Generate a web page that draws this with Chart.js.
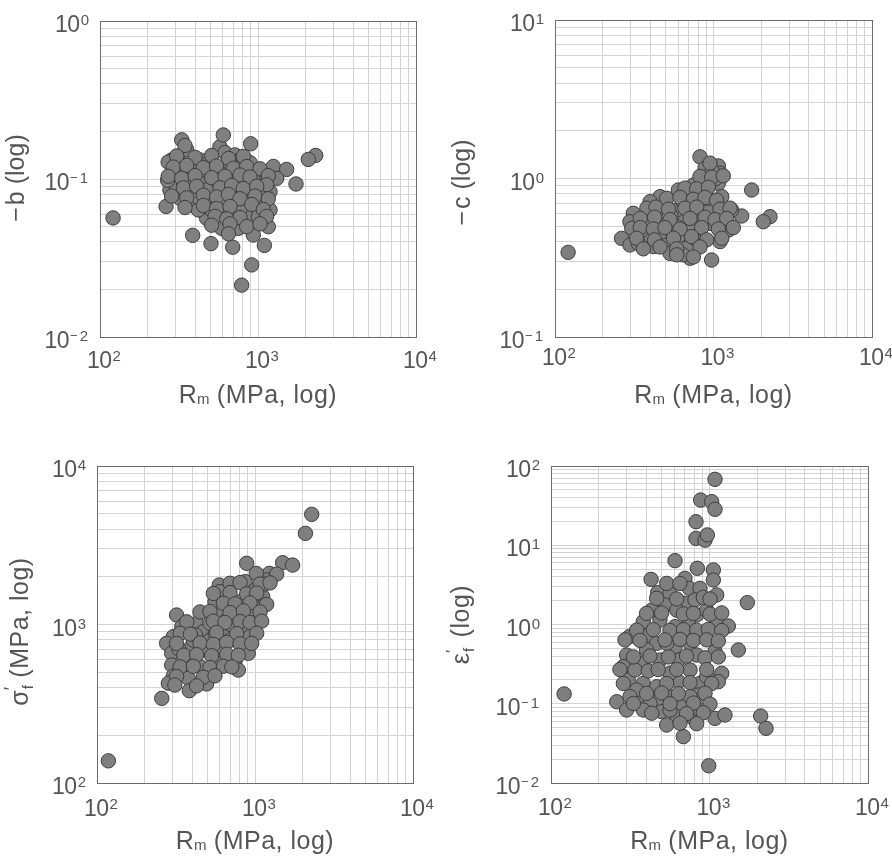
<!DOCTYPE html>
<html>
<head>
<meta charset="utf-8">
<script src="https://cdn.jsdelivr.net/npm/chart.js"></script>
<style>
html, body { margin: 0; padding: 0; background: #fff; }
#wrap { position: relative; width: 892px; height: 858px; }
canvas { position: absolute; }
</style>
</head>
<body>
<div id="wrap">
<canvas id="cB" width="446" height="420" style="left:0;top:0"></canvas>
<canvas id="cC" width="446" height="420" style="left:446px;top:0"></canvas>
<canvas id="cS" width="446" height="438" style="left:0;top:420px"></canvas>
<canvas id="cE" width="446" height="438" style="left:446px;top:420px"></canvas>
</div>
<script>
// decade exponents of the axes
const xExp = [2, 3, 4];
const yExpB = [-2, -1, 0];
const yExpC = [-1, 0, 1];
const yExpS = [2, 3, 4];
const yExpE = [-2, -1, 0, 1, 2];

// -b vs Rm
const rmB = [284,313,354,429,485,574,618,715,769,890, 981,306,291,371,473,618,827,1005,277,306,
  371,462,535,634,750,890,1081,1191,321,371, 485,603,715,827,981,1107,1191,473,589,715,
  848,1005,1162,589,750,934,419,509,337,409, 547,681,934,390,665,848,769,429,1030,561,
  634,473,665,807,270,268,329,345,603,899, 2318,2081,1250,1518,1314,1740,262,386,504,692,
  1097,912,788,121,
  306,400,509,650,807, 291,354,451,547,698,848,1030,1162, 270,329,400,509,618,769,890,1134,
  337,409,574,681,807,981, 284,354,451,547,650,769,957,1162, 345,451,547,665,912,1081,
  535,634,769,1134, 509,665,848,1030, 650];
const negB = [0.132,0.135,0.153,0.132,0.126,0.160,0.147,0.142,0.132,0.127,
  0.111,0.106,0.0986,0.111,0.111,0.111,0.111,0.0986,0.0852,0.0873,
  0.0917,0.0894,0.0831,0.0894,0.0917,0.0852,0.0873,0.0831,0.0755,0.0685,
  0.0755,0.0719,0.0737,0.0685,0.0668,0.0708,0.0637,0.0564,0.0607,0.0592,
  0.0578,0.0578,0.0499,0.0487,0.0487,0.0442,0.0637,0.0637,0.0962,0.0773,
  0.1035,0.101,0.0986,0.123,0.126,0.0737,0.0637,0.0939,0.0773,0.0702,
  0.0737,0.0852,0.0852,0.0986,0.128,0.098,0.177,0.163,0.190,0.167,
  0.141,0.133,0.120,0.115,0.101,0.093,0.067,0.044,0.039,0.037,
  0.038,0.0286,0.0213,0.0567,
  0.140,0.137,0.141,0.135,0.139, 0.119,0.122,0.118,0.121,0.117,0.120,0.116,0.105,
  0.104,0.101,0.105,0.102,0.104,0.106,0.103,0.092, 0.088,0.090,0.088,0.091,0.087,0.090,
  0.078,0.076,0.079,0.077,0.080,0.075,0.078,0.075, 0.066,0.068,0.065,0.067,0.069,0.064,
  0.058,0.056,0.057,0.058, 0.051,0.052,0.050,0.052, 0.045];

// -c vs Rm
const rmC = [822,884,1073,1099,1073,1741,2272,2062,1506,1302, 1127,822,746,600,460,398,494,312,370,297,
  263,305,370,460,507,615,645,822,950,1127, 1241,842,677,711,973,532,417,297,335,586,
  711,928,507,398,728,950,586,121,1030,980, 880,650,780,540,430,350,1180,1100,640,760,
  950,822,973,1153, 661,783,928, 507,615,746,884,1046, 380,434,520,661,783,1099,1271,
  345,425,532,711,884,1022,1211, 345,417,494,615,842,1073,1334, 327,425,559,728,906,1127,
  361,460,586,822, 586,746];
const negC = [1.37,1.16,1.20,1.08,0.932,0.846,0.574,0.534,0.580,0.633,
  0.768,0.806,0.910,0.846,0.768,0.714,0.681,0.603,0.553,0.534,
  0.419,0.485,0.430,0.430,0.381,0.440,0.561,0.574,0.633,0.473,
  0.473,0.399,0.363,0.314,0.306,0.337,0.372,0.381,0.390,0.633,
  0.714,0.750,0.521,0.497,0.485,0.521,0.497,0.342,1.0,1.12,
  0.95,0.70,0.62,0.58,0.60,0.47,0.57,0.40,0.33,0.42,
  1.25,1.03,1.02,1.04, 0.87,0.86,0.88, 0.75,0.76,0.74,0.76,0.73, 0.65,0.66,0.64,0.65,0.66,0.64,0.65,
  0.56,0.57,0.55,0.56,0.57,0.55,0.56, 0.49,0.48,0.49,0.48,0.49,0.48,0.49, 0.42,0.41,0.42,0.43,0.41,0.42,
  0.36,0.37,0.36,0.37, 0.33,0.32];

// sigma'f vs Rm
const rmS = [886,1496,1731,1233,865,594,600,558,804,1119, 1102,695,319,586,344,427,471,631,747,865,
  1000,304,276,397,483,600,844,907,297,370, 449,586,747,784,297,304,378,283,494,384,
  257,519,695,930,1000,1185,804,407,662,519, 2285,2085,118,1050,950,700,560,420,330,1150,
  900,
  1018,1372, 695,804,1076,1245, 545,695,886,1025, 631,747,930,1185, 449,519,695,844,1076,
  370,545,645,804,930,1102, 336,390,572,766,1025, 319,449,545,662,804,953,
  354,427,532,662,784, 336,407,519,631,714, 319,471,558, 311,427];
const sigS = [2432,2454,2371,2102,1863,1775,1611,1394,1394,1500,
  1296,1265,1148,1148,968,1017,901,923,968,923,
  1094,838,761,725,691,708,743,658,658,569,
  542,569,583,516,555,473,458,426,422,382,
  342,798,798,838,1650,1909,1120,798,1067,1017,
  4955,3758,138,1250,1450,1000,870,860,700,1800,
  1200,
  2100,2080, 1820,1840,1800,1830, 1570,1590,1560,1580, 1360,1350,1370,1340, 1200,1210,1190,1220,1200,
  1040,1050,1030,1045,1030,1050, 880,870,890,875,880, 760,765,750,770,755,760,
  640,645,635,650,640, 540,545,535,545,540, 470,465,475, 415,410];

// eps'f vs Rm
const rmE = [1083,880,1032,1083,822,822,937,969,606,838, 1057,1057,428,700,746,871,471,563,1110,1732,
  524,700,810,830,1110,382,487,606,914,1314, 312,411,464,606,754,1083,1520,300,373,487,
  636,830,286,307,382,464,636,871,1194,1137, 260,300,364,464,577,684,850,499,621,791,
  537,684,1083,1252,2103,2273,339,563,754,401, 537,735,432,621,960,347,421,563,754,960,
  315,382,871,121,989,
  537,651, 464,621,914,1007, 401,499,684,791,1007,1194, 347,442,563,684,830,983,1194,
  293,364,524,651,791,960,1137, 331,421,550,716,937,1137, 272,411,475,621,960,
  286,537,754,1032, 401,499,636,937, 331,563,791,1007, 432,716,914, 651,830];
const epsE = [67.9,37.2,35.5,28.4,19.8,12.2,11.6,13.5,6.39,5.12,
  4.88,3.64,3.71,3.82,2.86,2.86,2.52,2.43,2.36,1.89,
  1.76,1.85,2.04,1.32,1.14,1.086,1.14,0.939,0.737,0.957,
  0.702,0.737,0.578,0.525,0.578,0.454,0.477,0.412,0.3235,0.356,
  0.356,0.412,0.294,0.1995,0.181,0.164,0.190,0.181,0.242,0.190,
  0.106,0.0834,0.106,0.1115,0.123,0.0918,0.129,0.0794,0.0687,0.0654,
  0.0539,0.0385,0.0654,0.0721,0.070,0.049,0.267,0.242,0.267,0.477,
  0.578,1.034,1.52,1.52,1.52,0.149,0.101,0.0834,0.123,0.220,
  0.123,0.0834,0.0834,0.133,0.0165,
  3.3,3.3, 2.14,2.1,2.2,2.1, 1.38,1.40,1.36,1.38,1.35,1.40, 0.85,0.86,0.84,0.86,0.85,0.87,0.84,
  0.64,0.63,0.64,0.65,0.63,0.64,0.62, 0.39,0.40,0.39,0.40,0.38,0.39, 0.27,0.26,0.27,0.27,0.27,
  0.18,0.18,0.185,0.18, 0.135,0.137,0.134,0.136, 0.101,0.100,0.102,0.099, 0.076,0.075,0.077, 0.057,0.056];

const FONT = '"Liberation Sans", Arial, sans-serif';
const TEXT = '#555555';

// 1..9 x 10^n for every decade, so there is a grid line at each one
function logTicks(exps) {
  const t = [];
  for (let i = 0; i < exps.length - 1; i++) {
    for (let m = 1; m < 10; m++) t.push({ value: +(m * Math.pow(10, exps[i])).toPrecision(6) });
  }
  t.push({ value: Math.pow(10, exps[exps.length - 1]) });
  return t;
}

// draws a row of text pieces (for sub / superscripts)
function drawRuns(ctx, runs, x, y, rotate, align) {
  ctx.save();
  ctx.translate(x, y);
  if (rotate) ctx.rotate(-Math.PI / 2);
  ctx.fillStyle = TEXT;
  ctx.textBaseline = 'alphabetic';
  ctx.textAlign = 'left';
  let total = 0;
  const ws = runs.map(r => {
    ctx.font = r.size + 'px ' + FONT;
    ctx.letterSpacing = (r.ls || 0) + 'px';
    const w = ctx.measureText(r.t).width + (r.gap || 0);
    if (!r.stack) total += w;
    return w;
  });
  let cx = align === 'right' ? -total : align === 'left' ? 0 : -total / 2;
  runs.forEach((r, i) => {
    ctx.font = r.size + 'px ' + FONT;
    ctx.letterSpacing = (r.ls || 0) + 'px';
    ctx.fillText(r.t, cx + (r.dx || 0), r.dy || 0);
    if (!r.stack) cx += ws[i];
  });
  ctx.restore();
}

function powRuns(e) {
  const runs = [{ t: '10', size: 23, ls: -0.5 }];
  if (e < 0) {
    runs.push({ t: '\u2212', size: 13, dy: -8, dx: 1, gap: 3 });
    runs.push({ t: String(-e), size: 15, dy: -7 });
  } else {
    runs.push({ t: String(e), size: 15, dy: -7, dx: 1 });
  }
  return runs;
}

const xTitle = [
  { t: 'R', size: 25 },
  { t: 'm', size: 15, dy: 1 },
  { t: ' (MPa, log)', size: 25, ls: 0.5 }
];

const panels = [
  { id: 'cB', xs: rmB, ys: negB, yExp: yExpB, pad: { left: 100, top: 21, right: 30, bottom: 83 },
    xTickBase: 31, yTitleX: 24, yTitleDY: -1,
    yTitle: [{ t: '\u2212', size: 25, gap: 2 }, { t: 'b (log)', size: 25 }] },
  { id: 'cC', xs: rmC, ys: negC, yExp: yExpC, pad: { left: 109, top: 20, right: 20, bottom: 83 },
    xTickBase: 28, yTitleX: 24, yTitleDY: 4,
    yTitle: [{ t: '\u2212', size: 25, gap: 2 }, { t: 'c (log)', size: 25 }] },
  { id: 'cS', xs: rmS, ys: sigS, yExp: yExpS, pad: { left: 97, top: 46, right: 33, bottom: 75 },
    xTickBase: 33, yTitleX: 28, yTitleDY: 7,
    yTitle: [{ t: '\u03c3', size: 25 }, { t: '\u2032', size: 18, dy: -11, dx: 0, stack: true },
      { t: 'f', size: 15, dy: 5, dx: 1, gap: 1 }, { t: ' (MPa, log)', size: 25, ls: 0.5 }] },
  { id: 'cE', xs: rmE, ys: epsE, yExp: yExpE, pad: { left: 105, top: 46, right: 24, bottom: 75 },
    xTickBase: 32, yTitleX: 23, yTitleDY: 0,
    yTitle: [{ t: '\u03b5', size: 25 }, { t: '\u2032', size: 18, dy: -11, dx: 0, stack: true },
      { t: 'f', size: 15, dy: 5, dx: 1, gap: 4 }, { t: ' (log)', size: 25, ls: 0.5 }] }
];

function panelPlugin(p) {
  return {
    id: 'panel_' + p.id,
    beforeDatasetsDraw(chart) {
      const { ctx, chartArea: a } = chart;
      ctx.save();
      ctx.strokeStyle = '#6b6b6b';
      ctx.lineWidth = 1;
      ctx.strokeRect(Math.round(a.left) + 0.5, Math.round(a.top) + 0.5,
        Math.round(a.right - a.left), Math.round(a.bottom - a.top));
      ctx.restore();
    },
    afterDraw(chart) {
      const { ctx, chartArea: a, scales } = chart;
      xExp.forEach(e => {
        const px = scales.x.getPixelForValue(Math.pow(10, e));
        drawRuns(ctx, powRuns(e), px - 13, a.bottom + p.xTickBase, false, 'left');
      });
      p.yExp.forEach(e => {
        const py = scales.y.getPixelForValue(Math.pow(10, e));
        drawRuns(ctx, powRuns(e), a.left - 12, py + 11, false, 'right');
      });
      drawRuns(ctx, xTitle, (a.left + a.right) / 2, a.bottom + 66, false, 'center');
      drawRuns(ctx, p.yTitle, p.yTitleX, (a.top + a.bottom) / 2 + p.yTitleDY, true, 'center');
    }
  };
}

function axis(min, max, exps) {
  return {
    type: 'logarithmic',
    min: min,
    max: max,
    afterBuildTicks: s => { s.ticks = logTicks(exps); },
    ticks: { display: false },
    grid: { color: '#d3d3d3', lineWidth: 1, drawTicks: false },
    border: { display: false }
  };
}

panels.forEach(p => {
  const pts = p.xs.map((x, i) => ({ x: x, y: p.ys[i] }));
  const ye = p.yExp;
  new Chart(document.getElementById(p.id), {
    type: 'scatter',
    data: {
      datasets: [{
        data: pts,
        pointRadius: 7.2,
        pointBackgroundColor: '#7f7f7f',
        pointBorderColor: '#3d3d3d',
        pointBorderWidth: 1
      }]
    },
    options: {
      responsive: false,
      animation: false,
      layout: { padding: p.pad },
      plugins: { legend: { display: false }, tooltip: { enabled: false } },
      scales: {
        x: axis(100, 10000, xExp),
        y: axis(Math.pow(10, ye[0]), Math.pow(10, ye[ye.length - 1]), ye)
      }
    },
    plugins: [panelPlugin(p)]
  });
});
</script>
</body>
</html>
